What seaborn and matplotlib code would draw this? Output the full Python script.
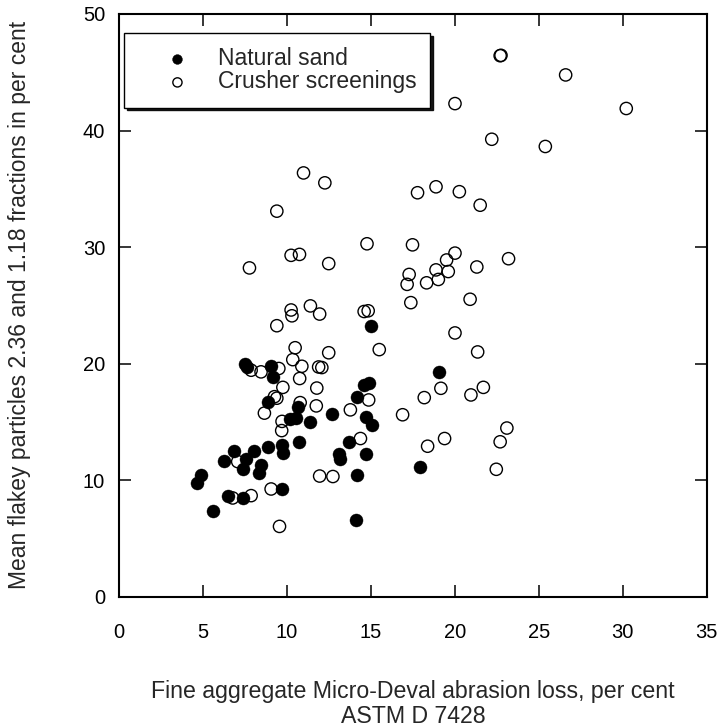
import matplotlib
matplotlib.use("Agg")
import matplotlib.pyplot as plt
import seaborn as sns
import pandas as pd

# Natural sand (filled)
natural_x = [7.53, 7.65, 9.06, 9.16, 8.86, 10.69, 10.16, 10.56, 11.40, 10.75,
             9.68, 9.76, 8.86, 8.06, 6.87, 6.27, 7.57, 7.37, 8.46, 8.36,
             4.88, 4.64, 6.47, 7.37, 9.70, 5.62, 12.70, 13.08, 13.14, 13.70,
             14.10, 14.17, 14.20, 14.60, 14.90, 14.69, 14.69, 15.07, 14.99, 17.92,
             19.08]
natural_y = [19.94, 19.68, 19.77, 18.81, 16.74, 16.31, 15.24, 15.33, 14.99, 13.29,
             13.00, 12.35, 12.86, 12.49, 12.49, 11.61, 11.78, 10.93, 11.30, 10.65,
             10.42, 9.72, 8.67, 8.47, 9.24, 7.37, 15.69, 12.20, 11.84, 13.29,
             6.60, 10.42, 17.17, 18.20, 18.30, 15.41, 12.27, 14.76, 23.25, 11.13,
             19.32]

# Crusher screenings (open)
crusher_x = [10.25, 10.30, 11.40, 9.40, 11.95, 10.49, 10.35, 10.89, 10.76, 11.89,
             7.87, 8.46, 9.52, 9.76, 9.26, 9.40, 8.66, 10.79, 11.75, 11.78,
             9.71, 9.69, 7.07, 11.95, 9.06, 7.87, 6.77, 9.56, 10.99, 12.26,
             9.40, 14.77, 10.25, 10.75, 12.49, 7.77, 14.60, 14.84, 15.50, 12.49,
             12.08, 17.78, 18.88, 20.27, 21.51, 17.48, 20.01, 19.51, 23.20, 18.88,
             19.61, 21.31, 17.28, 17.16, 18.32, 19.02, 17.38, 20.91, 20.01, 21.36,
             19.17, 18.18, 20.96, 21.70, 16.89, 19.39, 18.38, 23.10, 22.70, 22.47,
             22.70, 22.75, 26.60, 20.01, 30.21, 22.20, 25.39, 14.87, 13.78, 14.38,
             12.74]
crusher_y = [24.60, 24.10, 24.95, 23.25, 24.25, 21.36, 20.34, 19.77, 18.72, 19.71,
             19.43, 19.29, 19.58, 17.96, 17.16, 17.03, 15.75, 16.65, 16.37, 17.90,
             15.04, 14.25, 11.59, 10.35, 9.24, 8.67, 8.47, 6.03, 36.36, 35.51,
             33.08, 30.28, 29.29, 29.37, 28.58, 28.21, 24.47, 24.53, 21.20, 20.93,
             19.66, 34.66, 35.17, 34.75, 33.59, 30.19, 29.48, 28.89, 29.00, 28.04,
             27.90, 28.29, 27.65, 26.80, 26.93, 27.22, 25.23, 25.52, 22.63, 21.00,
             17.88, 17.08, 17.31, 17.96, 15.61, 13.57, 12.91, 14.47, 13.29, 10.93,
             46.42, 46.45, 44.77, 42.31, 41.89, 39.25, 38.63, 16.88, 16.03, 13.57,
             10.31]

x_ticks = [0, 5, 10, 15, 20, 25, 30, 35]
y_ticks = [0, 10, 20, 30, 40, 50]
series_labels = ["Natural sand", "Crusher screenings"]

df_nat = pd.DataFrame({"x": natural_x, "y": natural_y})
df_cru = pd.DataFrame({"x": crusher_x, "y": crusher_y})

sns.set_style("ticks")
plt.rcParams["font.family"] = ["Liberation Sans", "DejaVu Sans"]

fig = plt.figure(figsize=(7.22, 7.28), dpi=100)
ax = fig.add_axes([0.1648, 0.1804, 0.8140, 0.8004])

sns.scatterplot(data=df_cru, x="x", y="y", ax=ax, s=78, marker="o",
                facecolors="none", edgecolor="black", linewidth=1.0,
                label=series_labels[1], zorder=2)
sns.scatterplot(data=df_nat, x="x", y="y", ax=ax, s=88, marker="o",
                color="black", edgecolor="black", linewidth=0.3,
                label=series_labels[0], zorder=3)

ax.set_xlim(0, 35)
ax.set_ylim(0, 50)
ax.set_xticks(x_ticks)
ax.set_yticks(y_ticks)
ax.tick_params(direction="in", top=True, right=True, length=8.5, width=1.1,
               labelsize=14.5, colors="black")
ax.tick_params(axis="x", pad=19)
ax.tick_params(axis="y", pad=10)
for sp in ax.spines.values():
    sp.set_visible(True)
    sp.set_linewidth(1.5)
    sp.set_color("black")

ax.set_xlabel("Fine aggregate Micro-Deval abrasion loss, per cent\nASTM D 7428",
              fontsize=16.7, linespacing=1.1)
ax.set_ylabel("Mean flakey particles 2.36 and 1.18 fractions in per cent",
              fontsize=16.5)
ax.xaxis.set_label_coords(0.5, -0.143)
ax.yaxis.set_label_coords(-0.150, 0.5)

handles, labels = ax.get_legend_handles_labels()
order = [labels.index(series_labels[0]), labels.index(series_labels[1])]
leg = ax.legend([handles[i] for i in order], [labels[i] for i in order],
                loc="upper left", bbox_to_anchor=(0.009, 0.967),
                borderaxespad=0, fontsize=16.5, frameon=True, fancybox=False,
                edgecolor="black", framealpha=1, borderpad=0.62,
                handlelength=3.4, handletextpad=0.05, labelspacing=0.0,
                markerscale=0.75, shadow={"color": "black", "alpha": 0.9})
leg.get_frame().set_linewidth(1.0)

fig.savefig("out.png", dpi=100)
